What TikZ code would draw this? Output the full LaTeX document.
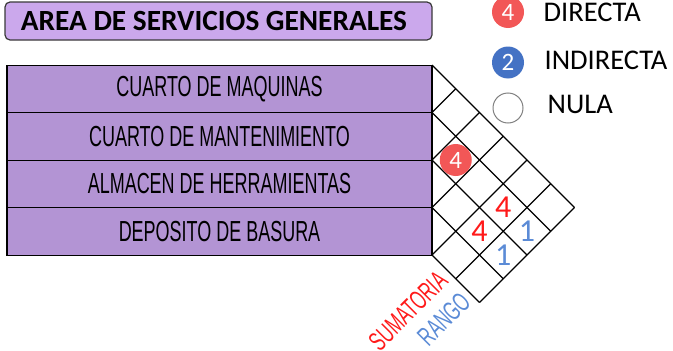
\documentclass[tikz,border=0pt]{standalone}
\usepackage{fontspec}
\setmainfont{Carlito}
\newfontfamily\narrowfont[FakeStretch=0.62]{Liberation Sans}
\definecolor{lilac}{HTML}{CBA8EC}
\definecolor{rowfill}{HTML}{B394D4}
\definecolor{edge}{HTML}{3A3A3A}
\definecolor{hot}{HTML}{F25757}
\definecolor{cool}{HTML}{4472C4}
\definecolor{soft}{HTML}{5B8BD6}
\definecolor{pure}{HTML}{FF1A1A}

\begin{document}
\begin{tikzpicture}[x=1pt,y=-1pt,line width=1.2pt,
  titlebox/.style={draw=edge,fill=lilac,rounded corners=5pt,minimum width=427pt,minimum height=38pt,inner sep=0pt,font=\bfseries\fontsize{29.3}{29}\selectfont},
  rowbox/.style={draw=black,fill=rowfill,line width=1.4pt,minimum width=425pt,minimum height=47.5pt,inner sep=0pt,font=\narrowfont\fontsize{29}{29}\selectfont},
  dot/.style={circle,minimum size=32pt,inner sep=0pt,text=white,font=\fontsize{25}{25}\selectfont},
  key/.style={anchor=west,inner sep=0pt,font=\fontsize{28.5}{28}\selectfont},
  cellnum/.style={inner sep=0pt,font=\fontsize{32}{32}\selectfont},
  tag/.style={rotate=45,anchor=east,inner sep=0pt,font=\narrowfont\fontsize{27}{27}\selectfont}]
\useasboundingbox (0,0) rectangle (673,351);
\node[titlebox] (title) at (218.5,21) {\kern-9pt AREA DE SERVICIOS GENERALES};
\foreach \t [count=\i from 0] in {CUARTO DE MAQUINAS,CUARTO DE MANTENIMIENTO,ALMACEN DE HERRAMIENTAS,DEPOSITO DE BASURA}
  \node[rowbox] (row\i) at (219.5,{89+47.5*\i}) {\t};
\foreach \a in {0,...,4}
  \draw (432,{65+47.5*\a}) -- ({432+23.75*(6-\a)},{65+23.75*(\a+6)});
\foreach \b in {1,...,6}{
  \pgfmathsetmacro\s{min(\b,4)}
  \draw ({432+23.75*(\b-\s)},{65+23.75*(\s+\b)}) -- ({432+23.75*\b},{65+23.75*\b});
}
\node[dot,fill=hot] (c12) at (455.75,160) {4};
\node[cellnum,text=pure] (c14) at (503.25,207.5) {4};
\node[cellnum,text=pure] (c24) at (479.5,231.25) {4};
\node[cellnum,text=soft] (c15) at (527,231.25) {1};
\node[cellnum,text=soft] (c25) at (503.25,255) {1};
\node[tag,text=pure] (sum) at (443,276) {SUMATORIA};
\node[tag,text=soft] (rank) at (466,297) {RANGO};
\node[dot,fill=hot] (k4) at (508,12) {4};
\node[key] (kd) at (543,12) {DIRECTA};
\node[dot,fill=cool] (k2) at (508,62.5) {2};
\node[key] (ki) at (544,60) {INDIRECTA};
\node[dot,draw=gray,line width=1pt,minimum size=30pt] (k0) at (508,108) {};
\node[key] (kn) at (547,104.5) {NULA};
\end{tikzpicture}
\end{document}
